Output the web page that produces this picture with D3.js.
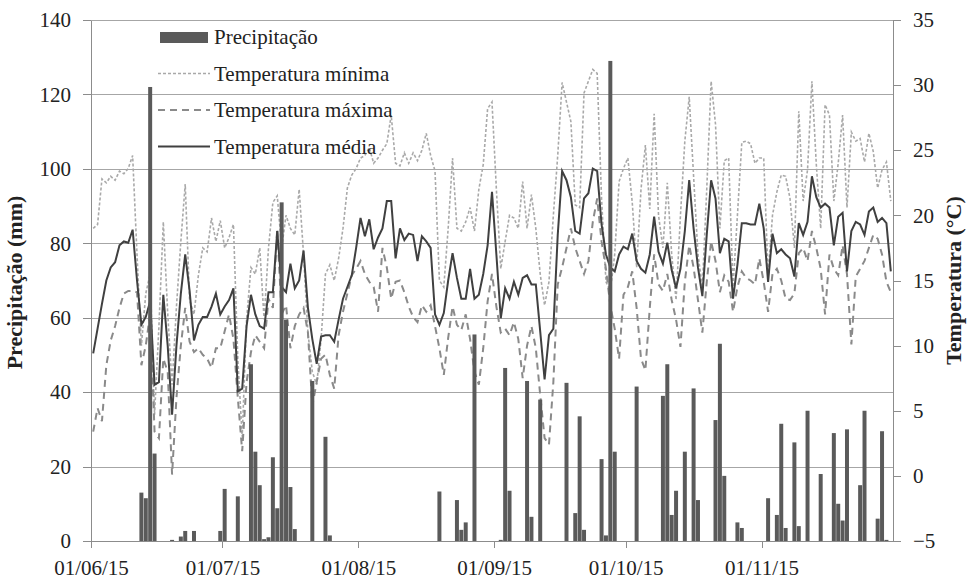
<!DOCTYPE html>
<html lang="pt">
<head>
<meta charset="UTF-8">
<title>Precipitação e temperatura</title>
<script src="https://d3js.org/d3.v7.min.js"></script>
<style>
  body { margin: 0; background: #fff; }
  svg text { font-family: "Liberation Serif", "Times New Roman", serif; fill: #222; }
  .axis path, .axis line { stroke: #8c8c8c; shape-rendering: crispEdges; }
  .grid line { stroke: #a6a6a6; shape-rendering: crispEdges; }
  .grid path { display: none; }
</style>
</head>
<body>
<div id="chart"></div>
<script>
// daily series, 01/06/2015 .. 30/11/2015 (one value per day)
const precip = [
  // jun
  0,0,0,0,0,0,0,0,0,0, 0,13,11.5,122,23.5,0,0,0,0.3,0, 1.2,2.7,0,2.7,0,0,0,0,0,2.7,
  // jul
  14,0,0,12,0,0,47.5,24,15,0.5, 1,22.5,8.8,91,59.5,14.5,3.2,0,0,0, 43,0,0,28,1.5,0,0,0,0,0, 0,
  // aug
  0,0,0,0,0,0,0,0,0,0, 0,0,0,0,0,0,0,0,13.3,0, 0,0,11,3,5,0,55.5,0,0,0, 0,
  // sep
  0,0.3,46.5,13.5,0,0,0,43,6.5,0, 38,0,0,0,0,0,42.5,0,7.5,33.5, 3,0,0,0,22,1.5,129,24,0,0,
  // oct
  0,0,41.5,0,0,0,0,0,39,47.5, 7,13.5,0,24,0,41,11,0,0,0, 32.5,53,17.5,0,0,5,3.5,0,0,0, 0,
  // nov
  0,11.5,0,7,31.5,3.5,0,26.5,4,0, 35,0,0,18,0,0,29,10,5.5,30, 0,0,15,35,0,0,6,29.5,0.3,0
];

const tempMin = [
  19.0,19.3,22.8,22.5,23.0,22.7,23.4,23.2,23.6,24.6, 17.0,10.0,14.0,15.5,4.7,11.5,19.5,12.5,7.0,13.0, 18.0,22.4,13.5,12.4,15.4,17.5,17.2,19.8,18.0,19.6,
  17.5,18.3,19.3,9.0,3.0,12.0,16.0,15.5,17.5,12.0, 17.5,21.0,21.5,17.5,20.0,19.0,18.5,22.0,17.0,11.0, 8.0,7.0,10.5,15.5,16.2,15.0,16.7,19.0,22.1,23.1, 23.6,
  24.4,24.6,25.2,24.0,24.4,25.0,25.5,27.7,24.0,23.8, 24.8,24.0,24.8,24.2,25.0,26.3,24.6,23.4,15.0,14.5, 19.0,24.4,19.0,18.8,19.5,20.6,18.8,22.0,23.9,28.2, 28.7,
  22.0,15.9,18.0,20.0,19.8,19.0,22.6,19.0,21.6,19.0, 15.5,13.1,14.9,20.0,24.6,30.2,28.7,27.2,20.8,20.6, 29.4,30.3,31.2,30.9,21.3,14.9,14.2,17.0,22.6,23.6,
  24.4,21.0,16.0,22.0,25.4,20.5,27.8,20.0,17.5,22.5, 17.0,13.5,20.0,25.7,29.1,23.0,17.0,14.5,22.0,30.3, 27.0,19.0,24.2,24.4,14.5,20.0,25.6,25.7,25.5,24.0, 24.4,
  24.4,15.4,20.0,21.8,23.1,23.0,21.3,17.5,28.0,21.1, 23.5,30.3,23.9,19.0,28.5,27.7,21.1,24.0,27.7,20.6, 26.4,25.7,25.9,24.1,26.3,24.9,22.1,23.5,24.1,21.1
];

const tempMax = [
  3.4,5.2,4.2,8.5,10.4,11.5,12.9,14.0,14.2,14.2, 14.1,8.5,10.0,12.5,3.4,2.9,9.0,8.0,0.1,6.0, 10.0,12.9,10.3,9.5,9.8,9.3,9.0,8.3,9.8,9.8,
  11.1,12.4,10.5,6.0,1.9,7.2,9.5,10.8,10.3,9.8, 13.6,12.9,19.0,12.4,13.1,9.8,11.5,12.4,12.9,11.0, 5.4,7.2,9.0,9.3,7.75,6.7,10.8,12.6,14.0,15.4, 15.9,
  16.5,15.5,14.9,14.5,12.6,17.5,16.0,13.6,14.9,15.0, 14.1,13.0,12.2,11.8,13.1,12.6,13.1,11.5,9.8,7.75, 10.6,13.0,11.6,11.2,12.4,10.5,8.0,7.0,9.8,13.4, 15.5,
  13.0,11.0,11.3,10.8,11.8,10.5,7.5,10.0,11.5,9.8, 6.2,2.9,2.4,7.2,14.7,16.0,17.5,19.0,17.5,16.5, 15.5,16.5,19.5,21.3,18.0,15.9,13.1,11.3,9.0,13.9,
  14.5,15.7,12.9,9.0,8.1,12.9,17.0,14.7,14.2,15.5, 13.5,12.0,9.9,14.9,17.7,16.0,13.5,11.0,14.9,18.0, 16.5,14.1,15.4,14.9,12.6,14.5,15.7,15.2,15.0,14.7, 16.7,
  14.9,12.6,15.5,15.9,15.0,13.6,13.5,14.0,17.1,17.5, 16.5,18.8,17.5,15.9,12.4,17.0,15.9,15.4,17.7,15.5, 10.1,15.3,15.9,16.5,17.5,18.5,18.2,17.0,14.9,14.1
];

const tempMed = [
  9.4,11.3,13.2,15.0,16.0,16.4,17.7,18.0,17.9,18.9, 15.0,11.6,12.2,13.4,7.0,7.2,13.9,10.0,4.7,10.0, 14.0,17.0,14.2,10.4,11.6,12.2,12.2,13.0,14.0,12.4,
  13.0,13.5,14.4,6.5,6.7,11.5,13.9,12.4,11.5,11.3, 14.1,14.1,18.8,14.5,14.1,16.3,14.4,15.0,17.3,12.9, 10.5,8.6,10.7,10.8,10.8,10.3,12.0,13.6,14.5,15.4, 17.5,
  19.8,18.4,19.7,17.4,18.3,19.0,21.1,21.1,16.7,19.0, 18.1,18.6,18.5,16.5,18.4,18.0,17.5,12.4,11.6,12.5, 15.0,17.1,15.2,13.6,13.6,15.9,13.6,13.9,15.5,17.7, 21.8,
  17.0,12.1,14.4,13.6,14.9,13.9,15.2,15.4,14.7,14.7, 11.1,7.4,10.8,11.3,18.5,23.4,22.7,21.4,18.8,18.6, 21.3,21.7,23.6,23.4,19.3,17.0,16.0,15.7,17.0,17.6,
  17.4,18.6,16.5,15.9,15.6,17.0,19.9,17.2,16.3,17.9, 15.8,14.4,15.9,18.8,22.7,19.0,16.0,13.8,18.5,22.7, 21.3,17.1,18.2,18.0,13.6,16.2,19.4,19.4,19.3,19.3, 20.9,
  19.0,14.9,18.6,17.1,17.4,17.0,16.7,15.3,19.4,18.5, 19.5,23.0,21.4,20.6,20.9,20.6,17.7,19.9,20.2,15.7, 18.8,19.5,19.3,18.5,20.3,20.6,19.5,19.8,19.4,15.7
];

const leftTicks = [0, 20, 40, 60, 80, 100, 120, 140];
const rightTicks = [-5, 0, 5, 10, 15, 20, 25, 30, 35];
const monthTicks = ["2015-06-01", "2015-07-01", "2015-08-01", "2015-09-01", "2015-10-01", "2015-11-01"];

const legendItems = [
  {label: "Precipitação", type: "bar"},
  {label: "Temperatura mínima", type: "min"},
  {label: "Temperatura máxima", type: "max"},
  {label: "Temperatura média", type: "med"}
];

// layout
const W = 971, H = 580;
const plot = {left: 91, right: 893, top: 20, bottom: 541};
const serif = "'Liberation Serif', 'Times New Roman', serif";

const parse = d3.timeParse("%Y-%m-%d");
const start = parse("2015-06-01");
const end = parse("2015-12-01");

const x = d3.scaleTime().domain([start, end]).range([plot.left, plot.right]);
const yL = d3.scaleLinear().domain([0, 140]).range([plot.bottom, plot.top]);
const yR = d3.scaleLinear().domain([-5, 35]).range([plot.bottom, plot.top]);

const days = precip.map((p, i) => d3.timeDay.offset(start, i));
const mid = d => x(d3.timeHour.offset(d, 12));
const dayW = x(d3.timeDay.offset(start, 1)) - x(start);

const svg = d3.select("#chart").append("svg")
  .attr("width", W).attr("height", H)
  .attr("font-family", serif);

// grid
svg.append("g")
  .attr("class", "grid")
  .attr("transform", `translate(${plot.left},0)`)
  .call(d3.axisLeft(yL).tickValues(leftTicks).tickSize(-(plot.right - plot.left)).tickFormat(""));

// temperature lines
const line = arr => d3.line()
  .x((d, i) => mid(days[i]))
  .y(d => yR(d))(arr);

svg.append("path").attr("d", line(tempMin))
  .attr("fill", "none").attr("stroke", "#a9a9a9").attr("stroke-width", 1.6)
  .attr("stroke-dasharray", "3,2");
svg.append("path").attr("d", line(tempMax))
  .attr("fill", "none").attr("stroke", "#8a8a8a").attr("stroke-width", 2)
  .attr("stroke-dasharray", "7,5");
svg.append("path").attr("d", line(tempMed))
  .attr("fill", "none").attr("stroke", "#404040").attr("stroke-width", 2);

// precipitation bars
svg.append("g").selectAll("rect")
  .data(precip.map((p, i) => ({date: days[i], value: p})).filter(d => d.value > 0))
  .enter().append("rect")
  .attr("x", d => x(d.date) + 0.2)
  .attr("width", dayW - 0.4)
  .attr("y", d => yL(d.value))
  .attr("height", d => yL(0) - yL(d.value))
  .attr("fill", "#5a5a5a");

// axes
const fontSize = "21px";
const styleTicks = g => g.attr("font-family", serif)
  .selectAll("text").style("font-size", fontSize).style("font-family", serif);

const left = svg.append("g")
  .attr("class", "axis")
  .attr("transform", `translate(${plot.left},0)`)
  .call(d3.axisLeft(yL).tickValues(leftTicks).tickSize(8).tickPadding(12).tickSizeOuter(0));
styleTicks(left);

const right = svg.append("g")
  .attr("class", "axis")
  .attr("transform", `translate(${plot.right},0)`)
  .call(d3.axisRight(yR).tickValues(rightTicks).tickSize(8).tickPadding(12).tickSizeOuter(0));
styleTicks(right);

const bottom = svg.append("g")
  .attr("class", "axis")
  .attr("transform", `translate(0,${plot.bottom})`)
  .call(d3.axisBottom(x).tickValues(monthTicks.map(parse))
    .tickFormat(d3.timeFormat("%d/%m/%y")).tickSize(7).tickPadding(12).tickSizeOuter(0));
styleTicks(bottom);

// axis titles
svg.append("text")
  .attr("transform", `translate(22,${(plot.top + plot.bottom) / 2 + 2}) rotate(-90)`)
  .attr("text-anchor", "middle")
  .style("font-size", "22px").style("font-weight", "bold")
  .text("Precipitação  (mm)");

svg.append("text")
  .attr("transform", `translate(961,${(plot.top + plot.bottom) / 2 + 0}) rotate(-90)`)
  .attr("text-anchor", "middle")
  .style("font-size", "22px").style("font-weight", "bold")
  .text("Temperatura  (°C)");

// legend
const lg = svg.append("g").attr("transform", "translate(160,37)");
legendItems.forEach((d, i) => {
  const g = lg.append("g").attr("transform", `translate(0,${i * 36.5})`);
  if (d.type === "bar") {
    g.append("rect").attr("x", 0).attr("y", -5).attr("width", 48).attr("height", 11).attr("fill", "#5a5a5a");
  } else {
    const st = {
      min: {c: "#a9a9a9", w: 1.6, da: "3,2"},
      max: {c: "#8a8a8a", w: 2, da: "7,5"},
      med: {c: "#404040", w: 2, da: null}
    }[d.type];
    g.append("line").attr("x1", -2).attr("x2", 50).attr("y1", 0).attr("y2", 0)
      .attr("stroke", st.c).attr("stroke-width", st.w).attr("stroke-dasharray", st.da);
  }
  g.append("text").attr("x", 54).attr("y", 0).attr("dy", "0.35em")
    .style("font-size", fontSize).text(d.label);
});
</script>
</body>
</html>
